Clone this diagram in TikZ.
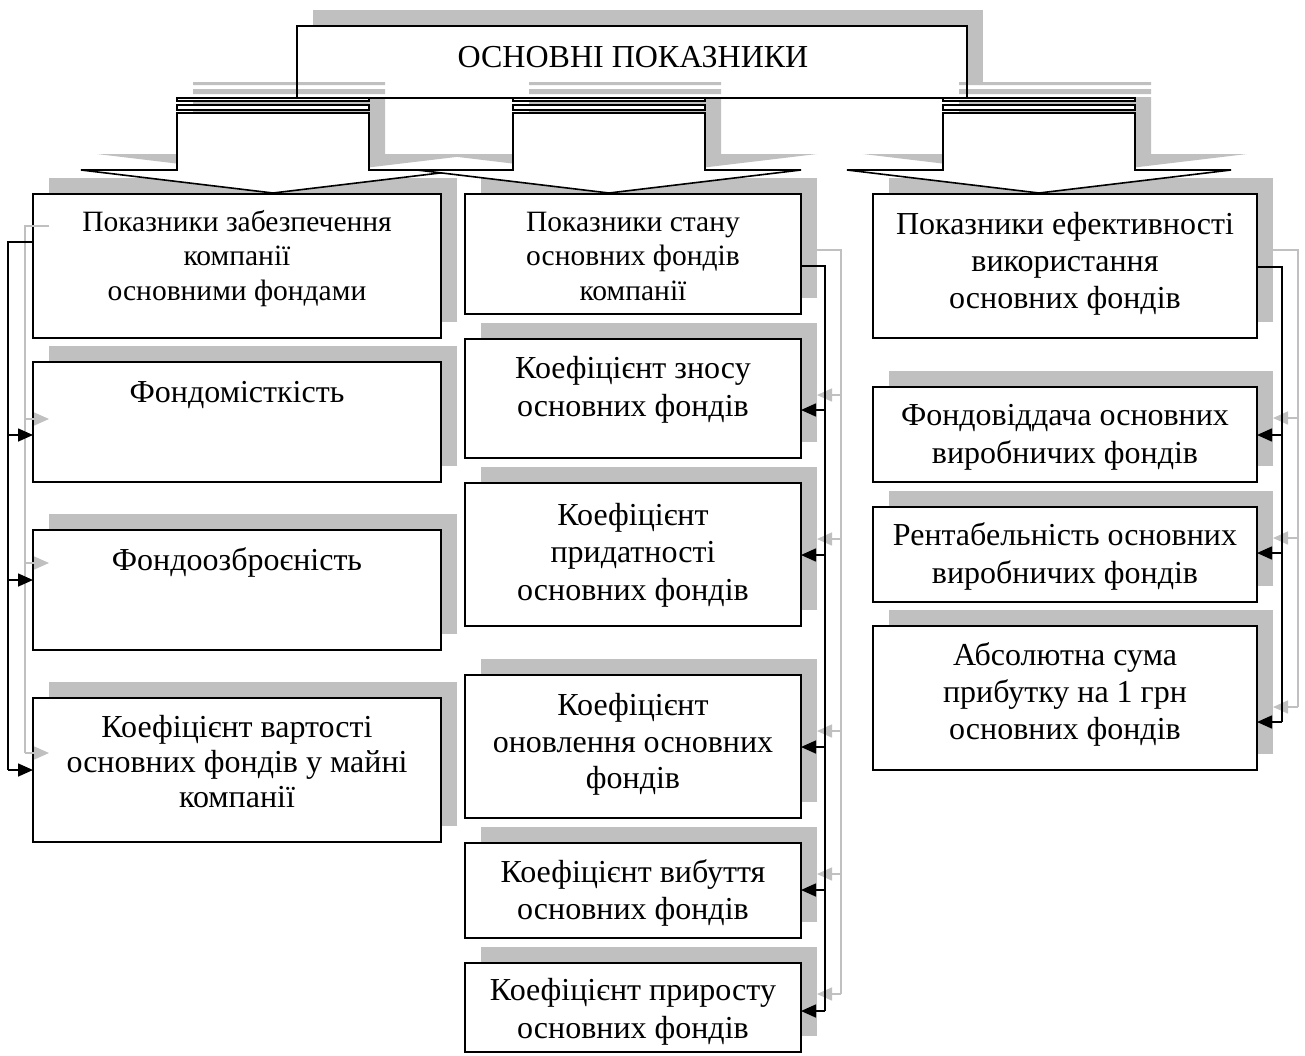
\documentclass[tikz,border=0pt]{standalone}
\usepackage{fontspec}
\setmainfont{Liberation Serif}
\usetikzlibrary{arrows.meta}
\definecolor{shd}{RGB}{192,192,192}
\pgfdeclarelayer{shadow}
\pgfsetlayers{shadow,main}
\tikzset{
  box/.style={draw=black, fill=white, line width=1.9pt, inner sep=0pt, outer sep=0pt},
  txt/.style={font=\fontsize{32}{37}\selectfont, inner sep=0pt, anchor=base},
  txts/.style={font=\fontsize{29.5}{34.5}\selectfont, inner sep=0pt, anchor=base},
  conn/.style={line width=1.6pt, draw=black},
  connarr/.style={conn, -{Triangle[length=15pt,width=13pt]}},
  sconn/.style={line width=1.5pt, draw=shd},
  sconnarr/.style={sconn, -{Triangle[length=15pt,width=13pt]}},
  arrowbody/.pic={\path[pic actions] (-96,0) rectangle (96,3) (-96,7) rectangle (96,12)
     (-96,15) -- (-96,72) -- (-192,72) -- (0,95) -- (192,72) -- (96,72) -- (96,15) -- cycle;},
}
\newcommand\boxshadow[1]{\begin{pgfonlayer}{shadow}\fill[shd] ([shift={(16pt,16pt)}]#1.south west) rectangle ([shift={(16pt,16pt)}]#1.north east);\end{pgfonlayer}}

\begin{document}
\begin{tikzpicture}[x=1pt,y=-1pt]
\useasboundingbox (0,0) rectangle (1305,1055);
\begin{pgfonlayer}{shadow}
\fill[white] (0,0) rectangle (1305,1055);
\end{pgfonlayer}

% ---- boxes ----
\node[box, minimum width=408pt, minimum height=144pt] (l1) at (237,266) {};
\node[box, minimum width=408pt, minimum height=120pt] (l2) at (237,422) {};
\node[box, minimum width=408pt, minimum height=120pt] (l3) at (237,590) {};
\node[box, minimum width=408pt, minimum height=144pt] (l4) at (237,770) {};
\node[box, minimum width=336pt, minimum height=120pt] (m1) at (633,254) {};
\node[box, minimum width=336pt, minimum height=119pt] (m2) at (633,398.5) {};
\node[box, minimum width=336pt, minimum height=143pt] (m3) at (633,554.5) {};
\node[box, minimum width=336pt, minimum height=143pt] (m4) at (633,746.5) {};
\node[box, minimum width=336pt, minimum height=95pt] (m5) at (633,890.5) {};
\node[box, minimum width=336pt, minimum height=89pt] (m6) at (633,1007.5) {};
\node[box, minimum width=384pt, minimum height=144pt] (r1) at (1065,266) {};
\node[box, minimum width=384pt, minimum height=95pt] (r2) at (1065,434.5) {};
\node[box, minimum width=384pt, minimum height=95pt] (r3) at (1065,554.5) {};
\node[box, minimum width=384pt, minimum height=144pt] (r4) at (1065,698) {};
\foreach \b in {l1,l2,l3,l4,m1,m2,m3,m4,m5,m6,r1,r2,r3,r4}{\boxshadow{\b}}

% ---- top box ----
\node[fill=white, inner sep=0pt, outer sep=0pt, minimum width=670pt, minimum height=72pt] (top) at (632,62) {};
\boxshadow{top}
\pic[fill=shd] at (289,82) {arrowbody};
\pic[fill=shd] at (625,82) {arrowbody};
\pic[fill=shd] at (1055,82) {arrowbody};
\draw[line width=1.9pt] (top.south west) rectangle (top.north east);
\pic[draw=black, fill=white, line width=1.6pt] at (273,98) {arrowbody};
\pic[draw=black, fill=white, line width=1.6pt] at (609,98) {arrowbody};
\pic[draw=black, fill=white, line width=1.6pt] at (1039,98) {arrowbody};
\node[txt] (ttop) at (633,67) {ОСНОВНІ ПОКАЗНИКИ};

% ---- texts ----
\node[txts] (l1a) at (237,231) {Показники забезпечення};
\node[txts] (l1b) at (237,265.5) {компанії};
\node[txts] (l1c) at (237,300) {основними фондами};
\node[txt] (l2a) at (237,402) {Фондомісткість};
\node[txt] (l3a) at (237,570) {Фондоозброєність};
\node[txt] (l4a) at (237,737) {Коефіцієнт вартості};
\node[txt] (l4b) at (237,772) {основних фондів у майні};
\node[txt] (l4c) at (237,807) {компанії};

\node[txts] (m1a) at (633,231) {Показники стану};
\node[txts] (m1b) at (633,265.5) {основних фондів};
\node[txts] (m1c) at (633,300) {компанії};
\node[txt] (m2a) at (633,378) {Коефіцієнт зносу};
\node[txt] (m2b) at (633,416) {основних фондів};
\node[txt] (m3a) at (633,525) {Коефіцієнт};
\node[txt] (m3b) at (633,562.5) {придатності};
\node[txt] (m3c) at (633,600) {основних фондів};
\node[txt] (m4a) at (633,715) {Коефіцієнт};
\node[txt] (m4b) at (633,752) {оновлення основних};
\node[txt] (m4c) at (633,788) {фондів};
\node[txt] (m5a) at (633,882) {Коефіцієнт вибуття};
\node[txt] (m5b) at (633,919) {основних фондів};
\node[txt] (m6a) at (633,1000) {Коефіцієнт приросту};
\node[txt] (m6b) at (633,1038) {основних фондів};

\node[txt] (r1a) at (1065,234) {Показники ефективності};
\node[txt] (r1b) at (1065,271) {використання};
\node[txt] (r1c) at (1065,308) {основних фондів};
\node[txt] (r2a) at (1065,425) {Фондовіддача основних};
\node[txt] (r2b) at (1065,463) {виробничих фондів};
\node[txt] (r3a) at (1065,545) {Рентабельність основних};
\node[txt] (r3b) at (1065,583) {виробничих фондів};
\node[txt] (r4a) at (1065,665) {Абсолютна сума};
\node[txt] (r4b) at (1065,702) {прибутку на 1 грн};
\node[txt] (r4c) at (1065,739) {основних фондів};

% ---- connector shadows ----
\draw[sconn] (49,226) -- (25,226) -- (25,753);
\draw[sconnarr] (25,419) -- (49,419);
\draw[sconnarr] (25,563) -- (49,563);
\draw[sconnarr] (25,753) -- (49,753);
\draw[sconn] (817,250) -- (841,250) -- (841,994);
\foreach \yy in {395,539,731,874,994}{\draw[sconnarr] (841,\yy) -- (817,\yy);}
\draw[sconn] (1273,250) -- (1298,250) -- (1298,707);
\foreach \yy in {418,538,707}{\draw[sconnarr] (1298,\yy) -- (1273,\yy);}

% ---- connectors ----
\coordinate (lbus) at (8,242);
\coordinate (mbus) at (825,266);
\coordinate (rbus) at (1282,267);
\draw[conn] (l1.west |- lbus) -- (lbus) -- (lbus |- 0,770);
\draw[connarr] (lbus |- 0,435) -- (l2.west |- 0,435);
\draw[connarr] (lbus |- 0,580) -- (l3.west |- 0,580);
\draw[connarr] (lbus |- 0,770) -- (l4.west |- 0,770);
\draw[conn] (m1.east |- mbus) -- (mbus) -- (mbus |- 0,1011);
\draw[connarr] (mbus |- 0,410) -- (m2.east |- 0,410);
\draw[connarr] (mbus |- 0,555) -- (m3.east |- 0,555);
\draw[connarr] (mbus |- 0,747) -- (m4.east |- 0,747);
\draw[connarr] (mbus |- 0,890) -- (m5.east |- 0,890);
\draw[connarr] (mbus |- 0,1011) -- (m6.east |- 0,1011);
\draw[conn] (r1.east |- rbus) -- (rbus) -- (rbus |- 0,722);
\draw[connarr] (rbus |- 0,435) -- (r2.east |- 0,435);
\draw[connarr] (rbus |- 0,553) -- (r3.east |- 0,553);
\draw[connarr] (rbus |- 0,722) -- (r4.east |- 0,722);
\end{tikzpicture}
\end{document}
